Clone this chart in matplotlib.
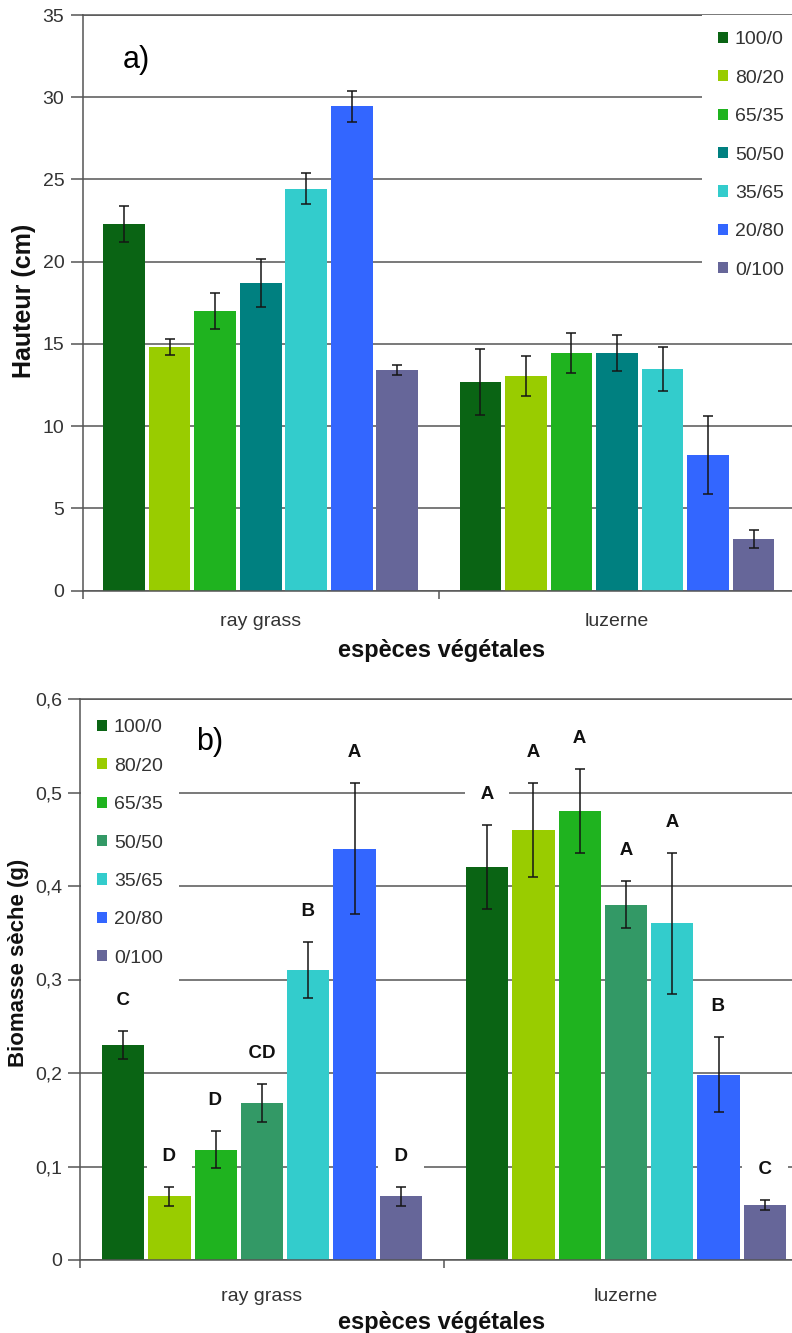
import matplotlib
matplotlib.use('Agg')
import matplotlib.pyplot as plt
from matplotlib.patches import Patch
from matplotlib.ticker import FuncFormatter
import numpy as np

plt.rcParams['font.family'] = ['Liberation Sans', 'DejaVu Sans']

# ---------------- data ----------------
species = ['ray grass', 'luzerne']
ratios = ['100/0', '80/20', '65/35', '50/50', '35/65', '20/80', '0/100']

colors_a = ['#0a6414', '#99cc00', '#1fb31f', '#008080', '#33cccc', '#3366ff', '#666699']
colors_b = ['#0a6414', '#99cc00', '#1fb31f', '#339966', '#33cccc', '#3366ff', '#666699']

height_ray = [22.3, 14.8, 17.0, 18.7, 24.45, 29.45, 13.4]
height_ray_err = [1.1, 0.5, 1.1, 1.45, 0.92, 0.95, 0.3]
height_luz = [12.7, 13.05, 14.45, 14.45, 13.5, 8.25, 3.15]
height_luz_err = [2.0, 1.2, 1.2, 1.12, 1.34, 2.39, 0.56]

biom_ray = [0.23, 0.068, 0.118, 0.168, 0.31, 0.44, 0.068]
biom_ray_err = [0.015, 0.01, 0.02, 0.02, 0.03, 0.07, 0.01]
biom_luz = [0.42, 0.46, 0.48, 0.38, 0.36, 0.198, 0.059]
biom_luz_err = [0.045, 0.05, 0.045, 0.025, 0.075, 0.04, 0.005]

letters_ray = ['C', 'D', 'D', 'CD', 'B', 'A', 'D']
letters_luz = ['A', 'A', 'A', 'A', 'A', 'B', 'C']

yticks_a = [0, 5, 10, 15, 20, 25, 30, 35]
yticks_b = [0, 0.1, 0.2, 0.3, 0.4, 0.5, 0.6]

W, H = 792, 1333
fig = plt.figure(figsize=(W / 100, H / 100), dpi=100)

GRID = '#555555'
TXT = '#333333'


def px_axes(left, top, right, bottom):
    return fig.add_axes([left / W, 1 - bottom / H, (right - left) / W, (bottom - top) / H])


def style_axes(ax, yticks, fmt, xpad):
    ax.set_xlim(-0.5, 1.5)
    ax.set_ylim(yticks[0], yticks[-1])
    ax.set_yticks(yticks)
    ax.yaxis.set_major_formatter(FuncFormatter(fmt))
    ax.set_xticks([-0.5, 0.5, 1.5])
    ax.set_xticklabels([])
    ax.set_xticks([0, 1], minor=True)
    ax.set_xticklabels(species, minor=True)
    ax.tick_params(axis='x', which='minor', length=0, pad=xpad, labelsize=14, labelcolor=TXT)
    ax.tick_params(axis='x', which='major', length=6, width=1.1, color=GRID, direction='out')
    ax.tick_params(axis='y', length=9, width=1.1, color=GRID, pad=4, labelsize=14, labelcolor=TXT)
    ax.yaxis.grid(True, color=GRID, linewidth=1.1)
    ax.set_axisbelow(True)
    ax.spines['right'].set_visible(False)
    for s in ['left', 'bottom', 'top']:
        ax.spines[s].set_color(GRID)
        ax.spines[s].set_linewidth(1.1)


def draw_bars(ax, vals, errs, colors, step, width):
    for j in range(len(ratios)):
        xs = np.arange(len(species)) + (j - 3) * step
        v = [vals[0][j], vals[1][j]]
        e = [errs[0][j], errs[1][j]]
        ax.bar(xs, v, width, color=colors[j], zorder=2, label=ratios[j])
        ax.errorbar(xs, v, yerr=e, fmt='none', ecolor='#151515', elinewidth=1.1,
                    capsize=3.5, capthick=1.1, zorder=3)


def add_legend(ax, colors, x_px, y_px):
    handles = [Patch(facecolor=c, edgecolor='none') for c in colors]
    leg = ax.legend(handles, ratios, loc='upper left',
                    bbox_to_anchor=(x_px / W, 1 - y_px / H), bbox_transform=fig.transFigure,
                    frameon=True, facecolor='white', edgecolor='none', framealpha=1,
                    fancybox=False, borderpad=0.84, borderaxespad=0, labelspacing=1.1,
                    handlelength=0.5, handleheight=0.5, handletextpad=0.35, fontsize=14,
                    labelcolor=TXT)
    leg.set_zorder(6)


# ---------------- panel a ----------------
ax1 = px_axes(82.5, 15, 795.2, 590.6)
draw_bars(ax1, [height_ray, height_luz], [height_ray_err, height_luz_err], colors_a, 0.1278, 0.117)
style_axes(ax1, yticks_a, lambda v, p: f'{int(v)}', 16)
add_legend(ax1, colors_a, 702, 15)
ax1.text(0.076, 0.922, 'a)', transform=ax1.transAxes, fontsize=22, ha='center', va='center')
fig.text(24 / W, 1 - 301 / H, 'Hauteur (cm)', rotation=90, fontsize=18, fontweight='bold',
         ha='center', va='center', color='#111111')
fig.text(442 / W, 1 - 650 / H, 'espèces végétales', fontsize=17, fontweight='bold',
         ha='center', va='center', color='#111111')

# ---------------- panel b ----------------
ax2 = px_axes(80, 699, 808, 1260)
draw_bars(ax2, [biom_ray, biom_luz], [biom_ray_err, biom_luz_err], colors_b, 0.1272, 0.116)
style_axes(ax2, yticks_b,
           lambda v, p: '0' if abs(v) < 1e-9 else f'{v:.1f}'.replace('.', ','), 20)
add_legend(ax2, colors_b, 81, 703)
ax2.text(0.1786, 0.924, 'b)', transform=ax2.transAxes, fontsize=22, ha='center', va='center')

for ci, (vals, errs, lets) in enumerate([(biom_ray, biom_ray_err, letters_ray),
                                          (biom_luz, biom_luz_err, letters_luz)]):
    for j in range(len(ratios)):
        x = ci + (j - 3) * 0.1272
        ax2.text(x, vals[j] + errs[j] + 0.033, '  ' + lets[j] + '  ', ha='center', va='center',
                 fontsize=13.5, fontweight='bold', color='#111111', zorder=1.8,
                 bbox=dict(boxstyle='square,pad=0.3', facecolor='white', edgecolor='none'))

fig.text(19 / W, 1 - 963 / H, 'Biomasse sèche (g)', rotation=90, fontsize=16, fontweight='bold',
         ha='center', va='center', color='#111111')
fig.text(442 / W, 1 - 1322 / H, 'espèces végétales', fontsize=17, fontweight='bold',
         ha='center', va='center', color='#111111')

fig.savefig('out.png', dpi=100, facecolor='white')
